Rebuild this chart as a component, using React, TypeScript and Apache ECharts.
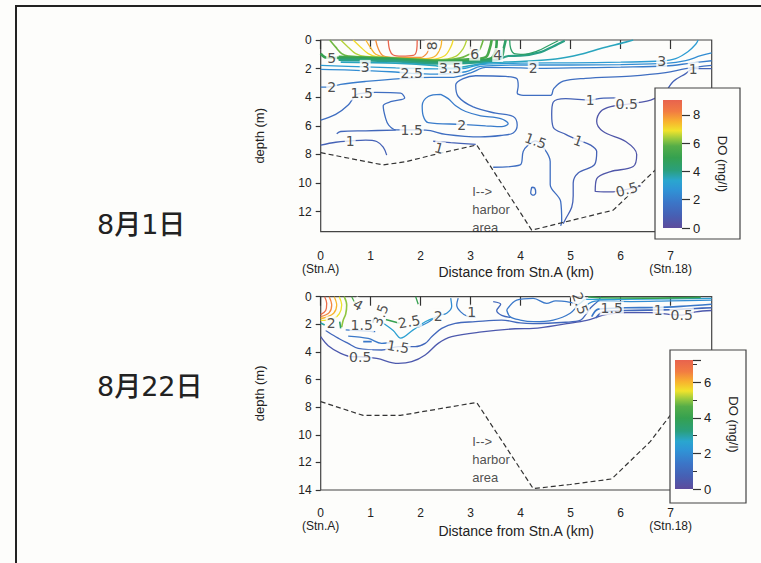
import React, { useEffect, useRef } from 'react';
import * as echarts from 'echarts';

// ---------- axes / ranges ----------
const xMax = 7.82;
const depthMax1 = 13.4;
const depthMax2 = 14;
const doMax1 = 9.06;
const doMax2 = 7.25;
const xAxisName = 'Distance from Stn.A (km)';
const yAxisName = 'depth (m)';
const cbName = 'DO (mg/l)';
const dateLabels = ['8月1日', '8月22日'];
const harborText = 'I-->\nharbor\narea';

// ---------- Aug 1 contours [km, depth] ----------
const a1_9 = [[1.35,0],[1.38,0.7],[1.45,1.05],[1.62,1.13],[1.85,1.08],[1.92,0.7],[1.93,0]];
const a1_8 = [[1.1,0],[1.15,0.6],[1.25,1.1],[1.5,1.22],[2.0,1.22],[2.12,0.95],[2.16,0.6],[2.2,0]];
const a1_75 = [[0.9,0],[1.0,0.55],[1.1,1.0],[1.3,1.2],[2.1,1.3],[2.3,1.1],[2.4,0.5],[2.42,0]];
const a1_7 = [[0.65,0],[0.8,0.5],[0.95,0.95],[1.15,1.2],[2.2,1.35],[2.48,1.1],[2.6,0.5],[2.65,0]];
const a1_65 = [[0.4,0],[0.55,0.5],[0.7,0.95],[0.9,1.15],[2.35,1.38],[2.7,1.15],[2.85,0.6],[2.92,0]];
const a1_6 = [[0.18,0],[0.3,0.5],[0.42,0.95],[0.55,1.12],[2.4,1.42],[2.8,1.25],[2.98,1.0],[3.15,0.8],[3.25,0]];
const a1_55 = [[0.36,1.18],[1.5,1.3],[2.4,1.46],[2.95,1.35],[3.3,1.2],[3.38,0.6],[3.42,0]];
const a1_5 = [[0,0.95],[0.1,1.22],[0.36,1.25],[1.5,1.36],[2.4,1.52],[3.0,1.45],[3.4,1.3],[3.5,0.7],[3.52,0]];
const a1_45 = [[0.36,1.32],[1.5,1.42],[2.4,1.58],[3.0,1.52],[3.5,1.38],[3.62,1.2],[3.66,0.6],[3.7,0]];
const a1_4 = [[0.36,1.4],[1.5,1.5],[2.35,1.66],[3.0,1.6],[3.5,1.45],[3.75,1.12],[4.0,1.1],[4.4,0.85],[4.65,0.45],[4.88,0.05]];
const a1_45r = [[3.78,0],[3.8,0.6],[3.87,0.95],[4.05,1.0],[4.35,0.75],[4.55,0.4],[4.75,0.05]];
const a1_35 = [[0.4,1.55],[1.5,1.62],[2.3,1.8],[2.59,1.98],[2.9,1.85],[3.3,1.62],[4.0,1.5],[4.7,1.33],[5.2,1.0],[5.6,0.6],[6.1,0.15],[6.25,0]];
const a1_3 = [[0,1.78],[0.89,1.88],[1.5,1.95],[2.3,2.02],[2.8,2.02],[3.2,1.72],[4.0,1.62],[5.0,1.6],[6.0,1.55],[6.82,1.47],[7.1,1.3],[7.35,0.8],[7.5,0.3],[7.55,0]];
const a1_25 = [[0,2.05],[0.6,2.1],[1.4,2.22],[1.82,2.33],[2.3,2.38],[2.9,2.22],[3.2,1.85],[4.0,1.75],[5.0,1.75],[6.0,1.72],[6.9,1.64],[7.3,1.45],[7.6,1.1],[7.82,0.9]];
const a1_2 = [[0,3.3],[0.22,3.26],[0.4,3.1],[0.9,2.9],[1.6,2.7],[2.2,2.62],[2.6,2.62],[3.0,2.3],[3.3,1.92],[4.0,1.95],[4.25,1.98],[5.0,1.95],[6.0,1.9],[6.9,1.82],[7.4,1.62],[7.82,1.45]];
const a1_15 = [[0,5.6],[0.3,5.2],[0.55,4.55],[0.7,3.85],[0.82,3.73],[1.1,3.66],[1.6,3.72],[1.68,4.05],[1.42,4.3],[1.25,4.6],[1.3,5.5],[1.36,5.95],[1.5,6.28],[1.82,6.29],[2.1,6.3],[2.5,6.6],[3.2,6.78],[3.6,6.68],[3.85,6.5],[3.93,5.95],[3.85,5.35],[3.5,5.12],[3.05,4.68],[2.75,3.95],[2.7,3.15],[2.85,2.7],[3.1,2.5],[3.7,2.55],[3.92,2.7],[3.95,3.2],[3.93,3.7],[4.05,3.87],[4.6,3.87],[4.66,3.4],[4.85,2.88],[5.3,2.68],[6.2,2.52],[6.9,2.28],[7.3,2.0],[7.82,1.78]];
const a1_2in = [[2.4,3.8],[2.15,3.95],[2.03,4.6],[2.05,5.3],[2.15,5.78],[2.82,5.9],[3.3,6.0],[3.62,6.06],[3.75,5.85],[3.6,5.5],[3.2,5.3],[2.9,5.0],[2.7,4.6],[2.55,4.1],[2.4,3.8]];
const a1_1a = [[0,7.35],[0.3,7.15],[0.59,7.06],[0.9,7.0],[1.12,7.1],[1.25,7.5],[1.32,8.05]];
const a1_1b = [[0.32,6.55],[0.4,6.4],[0.9,6.35],[1.5,6.3]];
const a1_1c = [[2.25,7.08],[2.6,7.18],[3.1,7.3]];
const a1_15b = [[3.45,8.9],[3.99,8.74],[4.05,7.8],[4.15,7.35],[4.3,7.05],[4.45,7.5],[4.59,8.5],[4.59,10.1],[4.8,11.3],[4.82,12.7],[4.8,13.0]];
const a1_1d = [[5.9,4.05],[5.6,4.08],[5.39,4.2],[4.9,4.1],[4.65,4.35],[4.62,5.2],[4.65,6.1],[4.9,6.6],[5.15,7.0],[5.4,7.35],[5.52,7.8],[5.48,8.7],[5.15,9.3],[5.05,10.0],[5.05,10.9],[5.02,11.7],[4.9,12.5],[4.85,12.85]];
const a1_05 = [[6.9,3.7],[6.6,4.2],[6.35,4.38],[6.12,4.5],[5.8,4.66],[5.6,5.0],[5.52,5.7],[5.65,6.4],[6.1,7.1],[6.32,8.0],[6.25,8.85],[5.8,9.2],[5.52,9.7],[5.49,10.6],[5.8,10.62],[6.12,10.45],[6.4,10.2]];
const a1_1e = [[7.82,2.0],[7.45,2.0],[7.3,2.35],[7.05,2.9],[6.9,3.7]];
const a1_loop = [[4.22,10.3],[4.28,10.35],[4.3,10.7],[4.25,10.85],[4.2,10.7],[4.22,10.3]];
const seabed1 = [[0,7.88],[1.25,8.74],[1.72,8.5],[2.32,7.97],[3.12,7.34],[4.22,13.3],[5.85,11.9],[6.75,8.9],[7.0,8.2]];

// band contours drawn thicker (dense green strip)
const aug1Contours = [
  { v: 9, pts: a1_9, w: 1.3 }, { v: 8, pts: a1_8, w: 1.3 }, { v: 7.5, pts: a1_75, w: 1.3 }, { v: 7, pts: a1_7, w: 1.3 },
  { v: 6.5, pts: a1_65, w: 1.3 }, { v: 6, pts: a1_6, w: 1.6 }, { v: 5.5, pts: a1_55, w: 2.6 }, { v: 5, pts: a1_5, w: 2.6 },
  { v: 4.5, pts: a1_45, w: 2.6 }, { v: 4, pts: a1_4, w: 2.2 }, { v: 4.5, pts: a1_45r, w: 1.3 }, { v: 3.5, pts: a1_35, w: 1.6 },
  { v: 3, pts: a1_3, w: 1.3 }, { v: 2.5, pts: a1_25, w: 1.3 }, { v: 2, pts: a1_2, w: 1.3 }, { v: 1.5, pts: a1_15, w: 1.3 },
  { v: 2, pts: a1_2in, w: 1.3 }, { v: 1, pts: a1_1a, w: 1.3 }, { v: 1.2, pts: a1_1b, w: 1.3 }, { v: 1, pts: a1_1c, w: 1.3 },
  { v: 1.5, pts: a1_15b, w: 1.3 }, { v: 1, pts: a1_1d, w: 1.3 }, { v: 0.5, pts: a1_05, w: 1.3 }, { v: 1, pts: a1_1e, w: 1.3 },
  { v: 1.5, pts: a1_loop, w: 1.3 },
];
const aug1Labels = [
  [0.22,1.25,'5',0],[0.89,1.88,'3',0],[1.82,2.33,'2.5',0],[2.59,1.98,'3.5',0],[2.22,0.4,'8',90],
  [3.08,0.95,'6',0],[3.54,1.05,'4',0],[4.25,1.98,'2',0],[6.82,1.47,'3',0],[7.45,2.0,'1',0],
  [0.22,3.26,'2',0],[0.82,3.73,'1.5',0],[5.39,4.2,'1',0],[6.12,4.5,'0.5',0],[1.82,6.29,'1.5',0],
  [2.82,5.92,'2',0],[0.59,7.06,'1',0],[2.37,7.55,'1',-15],[4.3,7.05,'1.5',-20],[5.15,7.05,'1',-20],
  [6.12,10.45,'0.5',15],
];

// ---------- Aug 22 contours ----------
const a2_7 = [[0.08,0],[0.12,0.5],[0.1,1.0],[0,1.3]];
const a2_65 = [[0.17,0],[0.22,0.6],[0.17,1.15],[0,1.45]];
const a2_6 = [[0.27,0],[0.32,0.6],[0.26,1.2],[0.1,1.5],[0,1.58]];
const a2_55 = [[0.37,0],[0.42,0.6],[0.37,1.25],[0.25,1.6],[0,1.72]];
const a2_5 = [[0.47,0],[0.52,0.6],[0.5,1.25],[0.45,1.7],[0.42,2.2]];
const a2_4 = [[0.62,0],[0.68,0.4],[0.72,0.55]];
const a2_3a = [[1.3,1.65],[1.58,1.92]];
const a2_3b = [[1.9,0],[1.95,0.55]];
const a2_3c = [[0,1.9],[0.08,2.05]];
const a2_3d = [[0.38,1.8],[0.4,2.3]];
const a2_25 = [[1.2,1.8],[1.45,2.45],[1.6,3.0],[1.85,2.4],[2.1,1.8],[2.3,1.5]];
const a2_2 = [[1.95,2.2],[2.15,1.85],[2.35,1.38],[2.52,1.2],[2.62,0.7],[2.6,0.1]];
const a2_1 = [[0.1,2.45],[0.3,2.9],[0.55,3.38],[0.75,3.74],[1.22,3.86],[1.55,3.62],[1.89,3.62],[2.09,3.38],[2.22,2.9],[2.42,2.29],[2.69,1.93],[3.09,1.81],[3.62,1.69],[3.99,1.9],[4.25,1.95],[4.9,1.85],[5.2,1.7],[5.3,1.3],[5.4,0.8],[5.55,0.3],[5.6,0]];
const a2_05 = [[0,2.9],[0.15,3.55],[0.4,4.1],[0.65,4.35],[0.79,4.35],[1.12,4.47],[1.55,4.83],[1.82,4.71],[2.09,4.22],[2.35,3.38],[2.62,2.9],[3.22,2.55],[3.89,2.32],[4.25,2.29],[4.92,1.95],[5.32,1.72],[5.7,1.3],[6.1,1.15],[6.6,1.15],[7.0,1.3],[7.22,1.33],[7.5,1.1],[7.82,1.0]];
const a2_15a = [[0.55,2.85],[0.95,3.02],[1.22,3.38],[1.45,3.3]];
const a2_15b = [[0.85,3.26],[1.02,3.26]];
const a2_15c = [[0.5,2.41],[1.09,2.53]];
const a2_w1 = [[2.75,0.1],[2.72,0.6],[2.8,1.1],[2.95,1.45],[3.1,1.5]];
const a2_w2 = [[3.45,0.35],[3.6,0.55],[3.52,1.0],[3.62,1.35],[3.8,1.5]];
const a2_cloud = [[3.72,0.96],[3.92,0.24],[4.25,0.12],[4.52,0.48],[4.7,0.3],[4.92,0.36],[5.12,0.6],[4.99,1.2],[4.65,1.69],[4.25,1.81],[3.99,1.69],[3.79,1.45],[3.72,0.96]];
const a2_15r = [[5.42,1.45],[5.55,0.9],[5.82,0.84],[6.1,0.8],[6.7,0.78],[7.2,0.7],[7.82,0.55]];
const a2_1r = [[5.5,1.55],[5.65,1.1],[6.1,1.0],[6.75,0.96],[7.0,0.95],[7.5,0.85],[7.82,0.8]];
const a2_2r = [[5.25,1.2],[5.32,0.6],[5.55,0.3],[6.2,0.35],[7.0,0.3],[7.82,0.25]];
const a2_25r = [[5.1,0.7],[5.19,0.48],[5.3,0.2],[5.6,0.2],[6.5,0.18],[7.82,0.12]];
const a2_35r = [[5.35,0.02],[5.6,0.08],[6.5,0.1],[7.6,0.05]];
const seabed2 = [[0,7.6],[0.85,8.6],[1.59,8.6],[3.12,7.66],[4.25,13.9],[4.99,13.6],[5.82,13.2],[6.59,10.5],[6.99,8.6],[7.2,8.0]];

const aug22Contours = [
  { v: 7, pts: a2_7, w: 1.3 }, { v: 6.5, pts: a2_65, w: 1.3 }, { v: 6, pts: a2_6, w: 1.3 }, { v: 5.5, pts: a2_55, w: 1.3 },
  { v: 5, pts: a2_5, w: 1.6 }, { v: 4.5, pts: a2_4, w: 1.3 }, { v: 4, pts: a2_3a, w: 1.6 }, { v: 4, pts: a2_3b, w: 1.3 },
  { v: 3, pts: a2_3c, w: 1.6 }, { v: 3.5, pts: a2_3d, w: 1.6 }, { v: 2.5, pts: a2_25, w: 1.3 }, { v: 2, pts: a2_2, w: 1.3 },
  { v: 1, pts: a2_1, w: 1.3 }, { v: 0.5, pts: a2_05, w: 1.3 }, { v: 1.5, pts: a2_15a, w: 1.3 }, { v: 1.5, pts: a2_15b, w: 1.8 },
  { v: 1.5, pts: a2_15c, w: 1.3 }, { v: 1.5, pts: a2_w1, w: 1.3 }, { v: 1, pts: a2_w2, w: 1.3 }, { v: 1.5, pts: a2_cloud, w: 1.3 },
  { v: 1.5, pts: a2_15r, w: 1.6 }, { v: 1, pts: a2_1r, w: 1.6 }, { v: 2, pts: a2_2r, w: 1.3 }, { v: 2.5, pts: a2_25r, w: 1.3 },
  { v: 4, pts: a2_35r, w: 1.6 },
];
const aug22Labels = [
  [0.75,0.6,'4',-30],[1.19,1.33,'3.5',70],[0.21,1.93,'2',0],[0.82,2.05,'1.5',0],[1.77,1.81,'2.5',10],
  [2.35,1.38,'2',0],[3.02,1.08,'1',0],[1.55,3.62,'1.5',-10],[0.79,4.35,'0.5',0],[5.19,0.48,'2.5',-70],
  [5.82,0.84,'1.5',0],[6.75,0.96,'1',0],[7.22,1.33,'0.5',0],
];

// ---------- colour map ----------
const cmapStops: [number, string][] = [
  [0, '#5d4b9c'], [0.1, '#4660b4'], [0.2, '#3b76c8'], [0.3, '#2f94d6'], [0.37, '#2aa6cf'],
  [0.45, '#2a9f7c'], [0.55, '#35a150'], [0.64, '#55ad48'], [0.7, '#9ccb3e'], [0.76, '#f0e32c'],
  [0.83, '#f8b32e'], [0.91, '#f27c42'], [1, '#e8634e'],
];

function hex2rgb(h: string) {
  return [parseInt(h.slice(1, 3), 16), parseInt(h.slice(3, 5), 16), parseInt(h.slice(5, 7), 16)];
}
function cmap(t: number) {
  t = Math.max(0, Math.min(1, t));
  for (let i = 1; i < cmapStops.length; i++) {
    if (t <= cmapStops[i][0]) {
      const [t0, c0] = cmapStops[i - 1];
      const [t1, c1] = cmapStops[i];
      const f = (t - t0) / (t1 - t0);
      const a = hex2rgb(c0), b = hex2rgb(c1);
      const r = a.map((x, k) => Math.round(x + (b[k] - x) * f));
      return `rgb(${r[0]},${r[1]},${r[2]})`;
    }
  }
  return cmapStops[cmapStops.length - 1][1];
}

const FONT = '"Liberation Sans", Arial, sans-serif';
const LFONT = '"DejaVu Sans", sans-serif';

export default function App() {
  const ref = useRef<HTMLDivElement>(null);
  useEffect(() => {
    if (!ref.current) return;
    const chart = echarts.init(ref.current, undefined, { renderer: 'svg' });

    const grids = [
      { left: 320.7, top: 40, width: 391, height: 191.6 },
      { left: 320.7, top: 296.7, width: 391, height: 193.3 },
    ];
    const xFmt = (v: number) => (v === 0 ? '0\n(Stn.A)' : v === 7 ? '7\n(Stn.18)' : String(v));
    const mkX = (gi: number, offset: number, gap: number) => ({
      type: 'value', gridIndex: gi, min: 0, max: xMax, interval: 1, offset,
      axisLine: { show: false },
      axisTick: { show: true, length: 9, lineStyle: { color: '#333', width: 1.2 } },
      axisLabel: { color: '#222', fontSize: 12, fontFamily: FONT, lineHeight: 13, margin: 13, formatter: xFmt, showMaxLabel: false },
      splitLine: { show: false },
      name: xAxisName, nameLocation: 'middle', nameGap: gap, nameMoveOverlap: false,
      nameTextStyle: { color: '#222', fontSize: 14, fontFamily: FONT },
    });
    const mkY = (gi: number, max: number) => ({
      type: 'value', gridIndex: gi, min: 0, max, interval: 2, inverse: true,
      axisLine: { show: false },
      axisTick: { show: true, length: 5, lineStyle: { color: '#333', width: 1.2 } },
      axisLabel: { color: '#222', fontSize: 12, fontFamily: FONT, margin: 9, showMaxLabel: max === depthMax2 },
      splitLine: { show: false },
      name: yAxisName, nameLocation: 'middle', nameGap: 55, nameRotate: 90, nameMoveOverlap: false,
      nameTextStyle: { color: '#222', fontSize: 13, fontFamily: FONT },
    });

    const gradStops = cmapStops.map(([o, c]) => ({ offset: o, color: c }));

    const series: any[] = [];
    const addPanel = (gi: number, contours: any[], labels: any[], seabed: number[][], max: number, harborDepth: number) => {
      contours.forEach((c) => {
        series.push({
          type: 'line', xAxisIndex: gi, yAxisIndex: gi, data: c.pts, showSymbol: false, symbol: 'none',
          smooth: 0.35, lineStyle: { color: cmap(c.v / max), width: c.w }, z: 2, silent: true,
        });
      });
      series.push({
        type: 'line', xAxisIndex: gi, yAxisIndex: gi, data: seabed, showSymbol: false, symbol: 'none',
        lineStyle: { color: '#333', width: 1.2, type: [5, 3] }, z: 3, silent: true,
      });
      series.push({
        type: 'scatter', xAxisIndex: gi, yAxisIndex: gi, symbolSize: 1, itemStyle: { color: 'rgba(0,0,0,0)' },
        z: 5, silent: true,
        data: labels.map((l) => ({ value: [l[0], l[1], l[2]], label: { rotate: l[3] } })),
        label: {
          show: true, position: 'inside', formatter: (p: any) => p.value[2], color: '#222', fontSize: 14,
          fontFamily: LFONT, backgroundColor: '#fdfdfb', padding: [0, 1],
        },
      });
      series.push({
        type: 'scatter', xAxisIndex: gi, yAxisIndex: gi, symbolSize: 1, itemStyle: { color: 'rgba(0,0,0,0)' },
        z: 5, silent: true, data: [[3.03, harborDepth]],
        label: {
          show: true, position: 'inside', align: 'left', verticalAlign: 'top', formatter: harborText,
          color: '#222', fontSize: 13, fontFamily: FONT, lineHeight: 18,
        },
      });
    };
    addPanel(0, aug1Contours, aug1Labels, seabed1, doMax1, 9.95);
    addPanel(1, aug22Contours, aug22Labels, seabed2, doMax2, 9.85);

    // colour bars
    const cbGrids = [
      { left: 663, top: 100, width: 19, height: 128 },
      { left: 675, top: 360, width: 18, height: 129 },
    ];
    const cbMax = [doMax1, doMax2];
    cbMax.forEach((m, k) => {
      series.push({
        type: 'bar', xAxisIndex: 2 + k, yAxisIndex: 2 + k, data: [m], barWidth: '100%', z: 11, silent: true,
        itemStyle: { color: new echarts.graphic.LinearGradient(0, 1, 0, 0, gradStops) },
      });
    });
    const cbX = (gi: number) => ({ type: 'category', gridIndex: gi, data: ['DO'], show: false });
    const cbY = (gi: number, max: number, minor: boolean) => ({
      type: 'value', gridIndex: gi, min: 0, max, interval: 2, position: 'right', z: 12,
      axisLine: { show: false },
      axisTick: { show: true, length: 8, lineStyle: { color: '#333', width: 1.2 } },
      minorTick: { show: minor, splitNumber: 2, length: 4, lineStyle: { color: '#333' } },
      axisLabel: { color: '#222', fontSize: 13, fontFamily: FONT, margin: 11, showMaxLabel: false },
      splitLine: { show: false },
      name: cbName, nameLocation: 'middle', nameGap: 34, nameRotate: -90, nameMoveOverlap: false,
      nameTextStyle: { color: '#222', fontSize: 13, fontFamily: FONT },
    });

    chart.setOption({
      animation: false,
      backgroundColor: '#fdfdfb',
      grid: [
        ...grids.map((g) => ({ ...g, show: true, borderColor: '#444', borderWidth: 1.2, backgroundColor: 'transparent' })),
        ...cbGrids,
      ],
      xAxis: [mkX(0, 5, 28), mkX(1, 3, 31), cbX(2), cbX(3)],
      yAxis: [mkY(0, depthMax1), mkY(1, depthMax2), cbY(2, doMax1, false), cbY(3, doMax2, true)],
      series,
      graphic: [
        { type: 'rect', z: 20, silent: true, shape: { x: 16, y: 6, width: 780, height: 600 }, style: { fill: 'none', stroke: '#222', lineWidth: 2 } },
        { type: 'rect', z: 10, silent: true, shape: { x: 655, y: 88, width: 85, height: 151 }, style: { fill: '#fdfdfb', stroke: '#444', lineWidth: 1.2 } },
        { type: 'rect', z: 10, silent: true, shape: { x: 670, y: 350, width: 76, height: 153 }, style: { fill: '#fdfdfb', stroke: '#444', lineWidth: 1.2 } },
        { type: 'text', z: 20, silent: true, x: 97, y: 224, style: { text: dateLabels[0], fill: '#222', font: '500 27px "DejaVu Sans", "Noto Sans CJK JP"', verticalAlign: 'middle' } },
        { type: 'text', z: 20, silent: true, x: 97, y: 386, style: { text: dateLabels[1], fill: '#222', font: '500 27px "DejaVu Sans", "Noto Sans CJK JP"', verticalAlign: 'middle' } },
      ],
    });
    return () => chart.dispose();
  }, []);
  return <div ref={ref} style={{ position: 'absolute', left: 0, top: 0, width: 761, height: 563 }} />;
}
